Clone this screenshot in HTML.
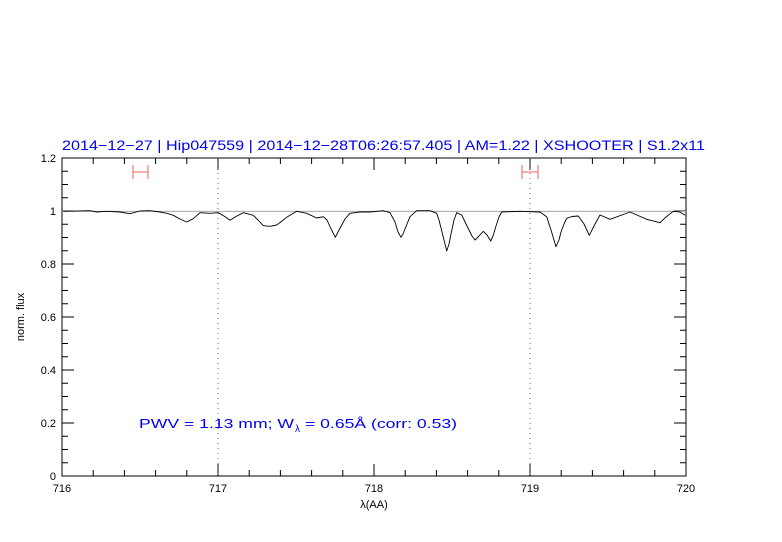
<!DOCTYPE html>
<html><head><meta charset="utf-8"><style>body{margin:0;background:#fff}svg{display:block}</style></head><body>
<svg width="782" height="542" xmlns="http://www.w3.org/2000/svg" font-family="Liberation Sans, sans-serif">
<text x="62" y="150" font-size="13.5" fill="#0000ee" textLength="643" lengthAdjust="spacingAndGlyphs">2014−12−27 | Hip047559 | 2014−12−28T06:26:57.405 | AM=1.22 | XSHOOTER | S1.2x11</text>
<rect x="62" y="158" width="624" height="318" fill="none" stroke="#000" stroke-width="1"/>
<g stroke="#000" stroke-width="1">
<path d="M93.2,476v-6M124.4,476v-6M155.6,476v-6M186.8,476v-6M249.2,476v-6M280.4,476v-6M311.6,476v-6M342.8,476v-6M405.2,476v-6M436.4,476v-6M467.6,476v-6M498.8,476v-6M561.2,476v-6M592.4,476v-6M623.6,476v-6M654.8,476v-6
M93.2,158v6M124.4,158v6M155.6,158v6M186.8,158v6M249.2,158v6M280.4,158v6M311.6,158v6M342.8,158v6M405.2,158v6M436.4,158v6M467.6,158v6M498.8,158v6M561.2,158v6M592.4,158v6M623.6,158v6M654.8,158v6
M218,476v-12M374,476v-12M530,476v-12M218,158v12M374,158v12M530,158v12"/>
<path d="M62,423h12M62,370h12M62,317h12M62,264h12M62,211h12M686,423h-12M686,370h-12M686,317h-12M686,264h-12M686,211h-12
M62,462.75h6M62,449.5h6M62,436.25h6M62,409.75h6M62,396.5h6M62,383.25h6M62,356.75h6M62,343.5h6M62,330.25h6M62,303.75h6M62,290.5h6M62,277.25h6M62,250.75h6M62,237.5h6M62,224.25h6M62,197.75h6M62,184.5h6M62,171.25h6
M686,462.75h-6M686,449.5h-6M686,436.25h-6M686,409.75h-6M686,396.5h-6M686,383.25h-6M686,356.75h-6M686,343.5h-6M686,330.25h-6M686,303.75h-6M686,290.5h-6M686,277.25h-6M686,250.75h-6M686,237.5h-6M686,224.25h-6M686,197.75h-6M686,184.5h-6M686,171.25h-6"/>
</g>
<g stroke="#444" stroke-width="0.8" stroke-dasharray="1,4"><path d="M218,158V476M530,158V476"/></g>
<line x1="62" y1="211.3" x2="686" y2="211.3" stroke="#999" stroke-width="0.8"/>
<g stroke="#f06060" stroke-width="1" fill="none"><path d="M133,172h15M133,165v14M148,165v14M522,172h16M522,165v14M538,165v14"/></g>
<polyline fill="none" stroke="#000" stroke-width="0.9" stroke-linejoin="round" points="63.3,211.3 90,210.7 96.7,212 106.7,211.3 120,212 130,213.7 140,211 150,210.7 160,212 167,213.3 173.3,215.3 180,219 186.7,222 193.3,218.7 200,212.7 210,213.3 218.3,212.7 224,216 230,220.3 236,216.5 243.3,212.7 253.3,215.3 258,220 263.3,225.7 270,226.3 276.7,225 282,221 286.7,217.3 296.7,211.3 306.7,213.3 316.7,218 323.3,216.7 327,220 330,226.7 335.3,237.3 338,232 341.7,225 345,219 350,213.3 360,212 370,212 383.3,210.7 390,212.7 395,222 398,232 401,237.3 403,234 405,229 410,216.7 416.7,210.7 430,210.7 436.7,213.3 439,220 442,232 446.7,251 449,244 451,234 454,220 456.7,212.7 461.7,215 468,228 472,236 475,240 479,236 483.3,231.3 487,235 490.7,241 493,236 496,226 499,217 501.7,212 520,211.3 540,212 546.7,216.7 551,230 556,246.7 559,240 561,232 564,224 566.7,218.3 572,216.5 578.3,216 584,224 589.3,235.3 594,226 600,215 610,219.3 630,212 646.7,219.3 660,222.7 666,217 673.3,211.3 680,212 685,215.3"/>
<g font-size="11" text-anchor="end" fill="#000">
<text x="56" y="480">0</text><text x="56" y="427">0.2</text><text x="56" y="374">0.4</text><text x="56" y="321">0.6</text><text x="56" y="268">0.8</text><text x="56" y="215">1</text><text x="56" y="162">1.2</text>
</g>
<g font-size="11" text-anchor="middle" fill="#000">
<text x="62" y="492">716</text><text x="218" y="492">717</text><text x="374" y="492">718</text><text x="530" y="492">719</text><text x="686" y="492">720</text>
<text x="374" y="508">λ(AA)</text>
</g>
<text transform="translate(24,317) rotate(-90)" font-size="11" text-anchor="middle">norm. flux</text>
<text x="139" y="428" font-size="13" fill="#0000ee" textLength="155" lengthAdjust="spacingAndGlyphs">PWV = 1.13 mm; W</text>
<text x="295" y="432" font-size="10" fill="#0000ee">λ</text>
<text x="305" y="428" font-size="13" fill="#0000ee" textLength="152" lengthAdjust="spacingAndGlyphs"> = 0.65Å (corr: 0.53)</text>
</svg>
</body></html>
